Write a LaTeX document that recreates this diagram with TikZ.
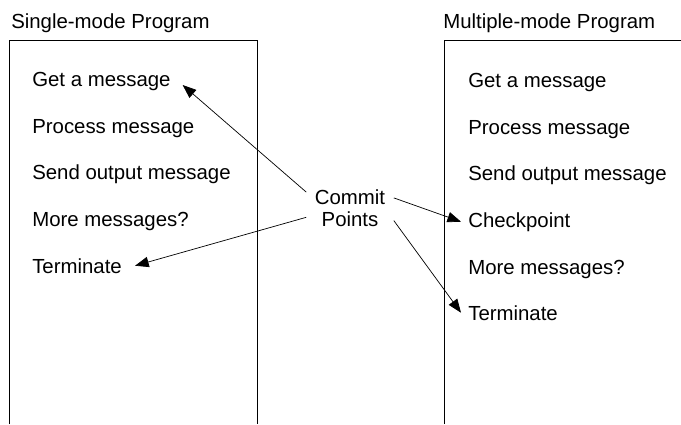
\documentclass[tikz,border=0pt]{standalone}
\usepackage{fontspec}
\setmainfont{Liberation Sans}
\usetikzlibrary{arrows.meta}

\begin{document}
\begin{tikzpicture}[x=0.025cm, y=-0.025cm,
		every node/.style={font=\fontsize{14.5}{15.6}\selectfont},
		item/.style={anchor=base west, inner xsep=0.175cm},
		title/.style={anchor=base west, inner sep=0},
		pointer/.style={-{Triangle[length=0.34cm,width=0.26cm]}, line width=0.5pt}]
		%%%%% START %%%%%
		\useasboundingbox (0, 0) rectangle (681, 424);
		
		\node[title] (singleT) at (11, 28) {Single-mode Program};
		\draw[line width=0.6pt] (9, 424) -- (9, 40) -- (257, 40) -- (257, 424);
		
		\node[item] (getL) at (25, 86) {Get a message};
		\node[item] (procL) at (25, 133) {Process message};
		\node[item] (sendL) at (25, 179) {Send output message};
		\node[item] (moreL) at (25, 226) {More messages?};
		\node[item] (termL) at (25, 273) {Terminate};
		
		\node[title] (multiT) at (443, 28) {Multiple-mode Program};
		\draw[line width=0.6pt] (444, 424) -- (444, 40) -- (681, 40);
		
		\node[item] (getR) at (461, 87) {Get a message};
		\node[item] (procR) at (461, 134) {Process message};
		\node[item] (sendR) at (461, 180) {Send output message};
		\node[item] (chkR) at (461, 227) {Checkpoint};
		\node[item] (moreR) at (461, 274) {More messages?};
		\node[item] (termR) at (461, 320) {Terminate};
		
		\node[align=center, inner xsep=0.21cm, inner ysep=0.12cm] (commit) at (350, 208) {Commit\\Points};
		
		\draw[pointer] (commit.160) -- ([xshift=0.12cm, yshift=-0.1cm]getL.east);
		\draw[pointer] (commit.192) -- ([xshift=0.15cm]termL.east);
		\draw[pointer] (commit.13) -- (chkR.west);
		\draw[pointer] (commit.-16) -- (termR.west);
		%%%%% END %%%%%
	\end{tikzpicture}
\end{document}
